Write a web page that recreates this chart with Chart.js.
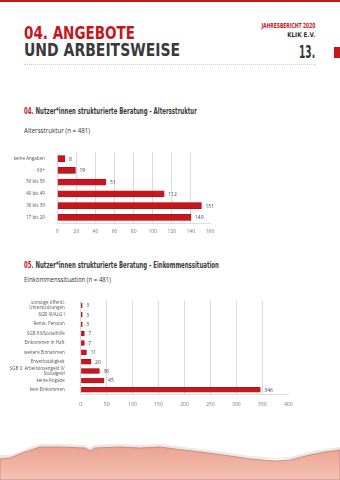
<!DOCTYPE html>
<html>
<head>
<meta charset="utf-8">
<script src="https://cdn.jsdelivr.net/npm/chart.js@4"></script>
<style>
  html, body { margin: 0; padding: 0; background: #fff; }
  body { width: 340px; height: 480px; position: relative; overflow: hidden; font-family: "Open Sans", sans-serif; }
  .abs { position: absolute; white-space: nowrap; }
  .narrow { font-family: "Liberation Sans Narrow", "DejaVu Sans Condensed", sans-serif; font-weight: bold; }
  .red { color: #c4161c; }
  [data-w] { transform-origin: 0 50%; }
  .right[data-w] { transform-origin: 100% 50%; }
  #topbar { position: absolute; left: 0; top: 0; width: 340px; height: 2px; background: #c4161c; }
  #tab { position: absolute; left: 334px; top: 47px; width: 6px; height: 11px; background: #c4161c; }
  #dots { position: absolute; left: 24px; top: 64px; width: 292px; border-top: 1px dotted #d8c6c6; }
  canvas { position: absolute; }
</style>
</head>
<body>
<div id="topbar"></div>
<div class="abs narrow red" data-w="111" style="left:24px; top:23px; font-size:17px;">04. ANGEBOTE</div>
<div class="abs narrow" data-w="156" style="left:24px; top:39px; font-size:18px; color:#3a3a3a;">UND ARBEITSWEISE</div>
<div class="abs narrow red right" data-w="54" style="right:25px; top:22px; font-size:7px;">JAHRESBERICHT 2020</div>
<div class="abs narrow right" data-w="28" style="right:25px; top:31px; font-size:6.5px; color:#333;">KLIK E.V.</div>
<div class="abs narrow right" data-w="16" style="right:25px; top:42px; font-size:17px; color:#333;">13.</div>
<div id="tab"></div>
<div id="dots"></div>

<div class="abs narrow" data-w="173" style="left:24px; top:107px; font-size:8px; color:#3a3a3a;"><span class="red">04.</span> Nutzer*innen strukturierte Beratung - Altersstruktur</div>
<div class="abs" data-w="66" style="left:24px; top:126px; font-size:6.5px; color:#333;">Altersstruktur (n = 481)</div>

<div class="abs narrow" data-w="195" style="left:24px; top:261px; font-size:8px; color:#3a3a3a;"><span class="red">05.</span> Nutzer*innen strukturierte Beratung - Einkommenssituation</div>
<div class="abs" data-w="87" style="left:24px; top:275px; font-size:6.5px; color:#333;">Einkommenssituation (n = 481)</div>

<canvas id="age-chart" style="left:0; top:145px;" width="340" height="95"></canvas>
<canvas id="income-chart" style="left:0; top:290px;" width="340" height="120"></canvas>

<svg class="abs" style="left:0; top:430px;" width="340" height="50">
  <defs>
    <linearGradient id="pink" x1="0" y1="0" x2="0" y2="1">
      <stop offset="0" stop-color="#eca392"/>
      <stop offset="1" stop-color="#f4c2b4"/>
    </linearGradient>
  </defs>
  <path d="M0,25 L12,25 L25,19 L40,14 L60,14 L85,15 L90,18 L95,15 L120,14 L140,15 L160,14 L175,16 L200,19 L230,23 L250,26 L275,28 L290,27 L310,22 L325,19 L340,17 L340,28 L0,32 Z" fill="#ece6e4"/>
  <path d="M0,29 L10,28 L25,22 L40,17 L60,17 L85,18 L90,21 L95,18 L120,17 L140,18 L160,17 L175,19 L200,22 L230,26 L250,29 L275,31 L290,30 L310,25 L325,22 L340,20 L340,50 L0,50 Z" fill="url(#pink)" stroke="#c08274" stroke-width="0.8"/>
</svg>

<script>
// Altersstruktur
const ageLabels = ['keine Angaben', '60+', '50 bis 59', '40 bis 49', '30 bis 39', '17 bis 29'];
const ageValues = [8, 19, 51, 112, 151, 140];

// Einkommenssituation
const incomeLabels = [
    ['sonstige öffentl.', 'Unterstützungen'],
    'SGB III/ALG I',
    'Rente, Pension',
    'SGB XII/Sozialhilfe',
    'Einkommen in Haft',
    'weitere Einnahmen',
    'Erwerbstätigkeit',
    ['SGB II, Arbeitslosengeld II/', 'Sozialgeld'],
    'keine Angabe',
    'kein Einkommen',
];
const incomeValues = [3, 3, 3, 7, 7, 11, 20, 36, 45, 346];

const RED = '#c8161d';
const FONT = '"Open Sans", sans-serif';

// Überschriften auf die Breite im Original stauchen
document.querySelectorAll('[data-w]').forEach((el) => {
    const w = el.getBoundingClientRect().width;
    if (w > 0) el.style.transform = `scaleX(${(parseFloat(el.dataset.w) / w).toFixed(3)})`;
});

// Zahl rechts neben jedem Balken
const valueLabels = {
    id: 'valueLabels',
    afterDatasetsDraw(chart) {
        const ctx = chart.ctx;
        const meta = chart.getDatasetMeta(0);
        ctx.save();
        ctx.font = `5px ${FONT}`;
        ctx.fillStyle = '#444';
        ctx.textBaseline = 'middle';
        meta.data.forEach((bar, i) => {
            ctx.fillText(String(chart.data.datasets[0].data[i]), bar.x + 4, bar.y + 0.5);
        });
        ctx.restore();
    },
};

function makeBarChart(id, labels, values, opts) {
    const canvas = document.getElementById(id);
    return new Chart(canvas.getContext('2d'), {
        type: 'bar',
        data: {
            labels,
            datasets: [
                {
                    data: values,
                    backgroundColor: RED,
                    borderColor: '#9a0f14',
                    borderWidth: 0.5,
                    barThickness: opts.barThickness,
                },
            ],
        },
        options: {
            indexAxis: 'y',
            responsive: false,
            animation: false,
            devicePixelRatio: 1,
            layout: { padding: { top: opts.padTop, right: opts.padRight, bottom: opts.padBottom, left: 0 } },
            plugins: { legend: { display: false }, tooltip: { enabled: false } },
            scales: {
                x: {
                    min: 0,
                    max: opts.max,
                    ticks: { stepSize: opts.step, color: '#777', font: { family: FONT, size: 5 }, padding: opts.tickPad, maxRotation: 0 },
                    grid: {
                        drawTicks: false,
                        color: (c) => (c.tick && c.tick.value === opts.max ? 'rgba(0,0,0,0)' : '#cfcfcf'),
                        lineWidth: 0.8,
                    },
                    border: { display: true, color: '#d6d6d6', width: 0.8 },
                    afterFit: (s) => { s.height = 14; },
                },
                y: {
                    ticks: {
                        autoSkip: false,
                        color: '#555',
                        font: { family: FONT, size: 4.5, lineHeight: 1.2 },
                        padding: opts.labelPad,
                    },
                    grid: { display: false },
                    border: { display: false },
                    afterFit: (s) => { s.width = opts.axisWidth; },
                },
            },
        },
        plugins: [valueLabels],
    });
}

makeBarChart('age-chart', ageLabels, ageValues, {
    max: 160, step: 20, barThickness: 6,
    padTop: 7.8, padBottom: 2.8, padRight: 130,
    axisWidth: 57.3, labelPad: 4.5, tickPad: 5,
});

makeBarChart('income-chart', incomeLabels, incomeValues, {
    max: 400, step: 50, barThickness: 4.8,
    padTop: 7.8, padBottom: 1.5, padRight: 51.7,
    axisWidth: 80.7, labelPad: 8, tickPad: 7,
});
</script>
</body>
</html>
